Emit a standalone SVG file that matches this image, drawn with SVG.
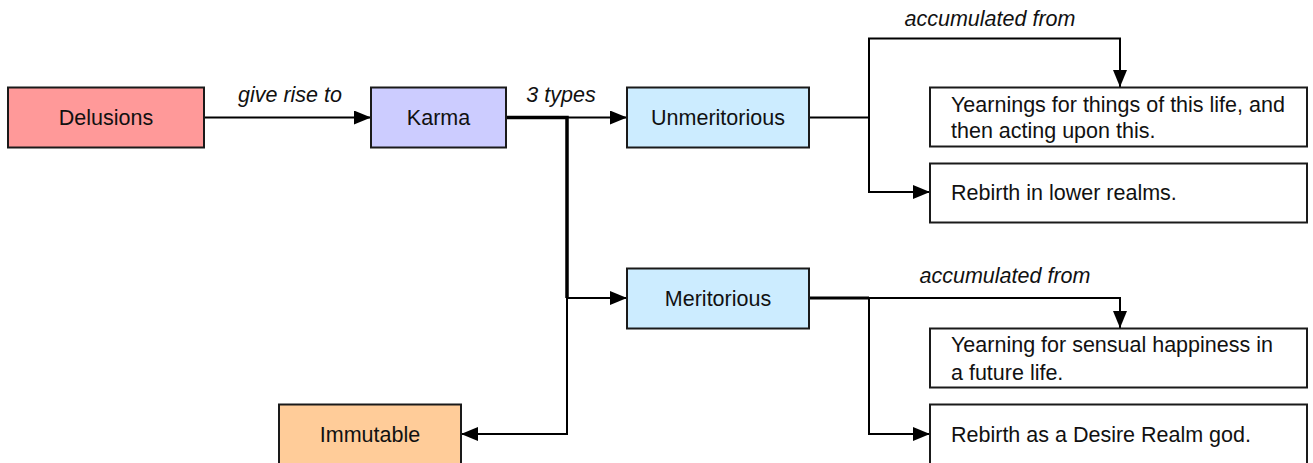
<svg xmlns="http://www.w3.org/2000/svg" width="1313" height="463" viewBox="0 0 1313 463">
<style>
  .box { stroke: #1a1a1a; stroke-width: 2; }
  .t { font-family: "Liberation Sans", Arial, sans-serif; font-size: 21.5px; fill: #111; }
  .c { text-anchor: middle; }
  .lbl { font-family: "Liberation Sans", Arial, sans-serif; font-size: 21.5px; font-style: italic; fill: #111; text-anchor: middle; }
  .ln { fill: none; stroke: #000; stroke-width: 2; }
  .thick { fill: none; stroke: #000; stroke-width: 3.5; }
  .arr { marker-end: url(#ah); }
</style>
<defs>
  <marker id="ah" markerUnits="userSpaceOnUse" markerWidth="18" markerHeight="15" refX="17" refY="7" orient="auto">
    <path d="M0,0 L17,7 L0,14 z" fill="#000"/>
  </marker>
</defs>
<rect width="1313" height="463" fill="#fff"/>
<g id="connectors">
  <path class="ln arr" d="M204,117.5 H371"/>
  <text class="lbl" x="290" y="102">give rise to</text>
  <path class="ln arr" d="M506,117.5 H627"/>
  <path class="thick" d="M506,117.5 H567 V298"/>
  <text class="lbl" x="561" y="102">3 types</text>
  <path class="ln arr" d="M567,298 H627"/>
  <path class="ln arr" d="M567,298 V434 H461"/>
  <path class="ln arr" d="M809,117.5 H869 V38.5 H1120 V87"/>
  <path class="ln arr" d="M869,117.5 V192 H930"/>
  <text class="lbl" x="990" y="26">accumulated from</text>
  <path class="ln arr" d="M809,298 H1120 V328"/>
  <path class="ln" d="M809,298 H869" style="stroke-width:3"/>
  <path class="ln arr" d="M869,298 V434 H930"/>
  <text class="lbl" x="1005" y="283">accumulated from</text>
</g>
<g id="delusions">
  <rect class="box" x="8" y="87.5" width="196" height="60" fill="#FF9999"/>
  <text class="t c" x="106" y="125">Delusions</text>
</g>
<g id="karma">
  <rect class="box" x="371" y="87.5" width="135" height="60" fill="#CCCCFF"/>
  <text class="t c" x="438.5" y="125">Karma</text>
</g>
<g id="unmeritorious">
  <rect class="box" x="627" y="87.5" width="182" height="60" fill="#CCECFF"/>
  <text class="t c" x="718" y="125">Unmeritorious</text>
</g>
<g id="meritorious">
  <rect class="box" x="627" y="268.5" width="182" height="60" fill="#CCECFF"/>
  <text class="t c" x="718" y="306">Meritorious</text>
</g>
<g id="immutable">
  <rect class="box" x="279" y="404.5" width="182" height="64" fill="#FFCC99"/>
  <text class="t c" x="370" y="442">Immutable</text>
</g>
<g id="yearnings">
  <rect class="box" x="930" y="87.5" width="377" height="59" fill="#fff"/>
  <text class="t" x="951" y="112">Yearnings for things of this life, and</text>
  <text class="t" x="951" y="138">then acting upon this.</text>
</g>
<g id="rebirth-lower">
  <rect class="box" x="930" y="163.5" width="377" height="59" fill="#fff"/>
  <text class="t" x="951" y="200">Rebirth in lower realms.</text>
</g>
<g id="yearning-sensual">
  <rect class="box" x="930" y="328.5" width="377" height="59" fill="#fff"/>
  <text class="t" x="951" y="352">Yearning for sensual happiness in</text>
  <text class="t" x="951" y="380">a future life.</text>
</g>
<g id="rebirth-god">
  <rect class="box" x="930" y="404.5" width="377" height="64" fill="#fff"/>
  <text class="t" x="951" y="442">Rebirth as a Desire Realm god.</text>
</g>
</svg>
